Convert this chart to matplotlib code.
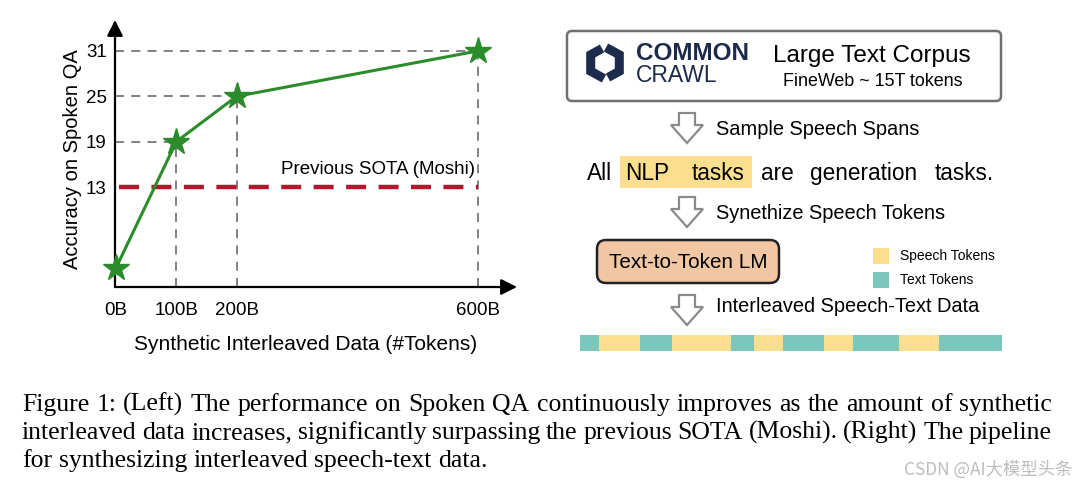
import matplotlib
matplotlib.use("Agg")
import matplotlib.pyplot as plt
import matplotlib.patches as mpatches
import numpy as np

plt.rcParams['font.family'] = ['Liberation Sans', 'DejaVu Sans']

# data for the left chart
x_tokens = [0, 100, 200, 600]
x_labels = ["0B", "100B", "200B", "600B"]
accuracy = [2.3, 19, 25, 31]
y_ticks = [13, 19, 25, 31]
sota = 13

# interleaved token strip (widths in px, kind of each span)
seg_widths = [19, 41, 32, 59, 23, 29, 41, 29, 46, 40, 63]
seg_kinds = ["text", "speech", "text", "speech", "text", "speech",
             "text", "speech", "text", "speech", "text"]

sentence_words = ["All", "NLP", "tasks", "are", "generation", "tasks."]
sentence_x = [600, 647, 718, 777, 864, 964]

caption = ["Figure 1: (Left) The performance on Spoken QA continuously improves as the amount of synthetic",
           "interleaved data increases, significantly surpassing the previous SOTA (Moshi). (Right) The pipeline",
           "for synthesizing interleaved speech-text data."]

YELLOW = "#fbdf8e"
TEAL = "#7ac7bd"
GREEN = "#2b8c2b"
RED = "#b3162e"
GREY = "#777777"

fig = plt.figure(figsize=(10.8, 4.9), dpi=100)

# overlay axes in pixel coordinates for the diagram parts
cv = fig.add_axes([0, 0, 1, 1])
cv.set_xlim(0, 1080)
cv.set_ylim(490, 0)
cv.axis("off")

# ---- left chart ----
ax = fig.add_axes([115 / 1080, 1 - 287 / 490, (517 - 115) / 1080, (287 - 20) / 490])
ax.set_xlim(-1.7, 665)
ax.set_ylim(-0.23, 35.1)
for s in ax.spines.values():
    s.set_visible(False)
ax.patch.set_alpha(0)

arrow_kw = dict(arrowstyle="-|>", lw=1.6, color="black", mutation_scale=24, shrinkA=0, shrinkB=0)
ax.annotate("", xy=(0, 1), xytext=(0, 0), xycoords="axes fraction", arrowprops=arrow_kw)
ax.annotate("", xy=(1, 0), xytext=(0, 0), xycoords="axes fraction", arrowprops=arrow_kw)

xmin = ax.get_xlim()[0]
ymin = ax.get_ylim()[0]
for xv, yv in zip(x_tokens, accuracy):
    if xv > 0:
        ax.plot([xmin, xv], [yv, yv], color=GREY, lw=1.3, dashes=(5, 4), zorder=1)
        ax.plot([xv, xv], [ymin, yv], color=GREY, lw=1.3, dashes=(5, 4), zorder=1)

ax.plot([x_tokens[0] + 5, x_tokens[-1]], [sota, sota], color=RED, lw=3.2,
        dashes=(4.5, 2.8), zorder=2)
ax.text(x_tokens[-1] - 4, sota + 2.3, "Previous SOTA (Moshi)", fontsize=13.5,
        ha="right", va="center")

ax.plot(x_tokens, accuracy, color=GREEN, lw=2.2, marker="*", markersize=20,
        markerfacecolor=GREEN, markeredgecolor=GREEN, zorder=3, clip_on=False)

ax.set_xticks(x_tokens, x_labels, fontsize=13.5)
ax.set_yticks(y_ticks, [str(v) for v in y_ticks], fontsize=13.5)
ax.tick_params(axis="x", length=0, pad=11)
ax.tick_params(axis="y", length=0, pad=6)

cv.text(72, 159, "Accuracy on Spoken QA", rotation=90, fontsize=14.5, ha="center", va="center")
cv.text(306, 344, "Synthetic Interleaved Data (#Tokens)", fontsize=15, ha="center", va="center")

# ---- right diagram ----
box = mpatches.FancyBboxPatch((567, 31), 434, 70, boxstyle="round,pad=0,rounding_size=5",
                              fc="white", ec="#707070", lw=1.8)
cv.add_patch(box)

# common crawl logo (hexagon ring with two notches)
navy = "#1c2a4c"
cx, cy, r = 605, 63, 16.5
ang = np.radians([90, 150, 210, 270, 330, 30, 90])
hx = cx + r * np.cos(ang)
hy = cy - r * np.sin(ang)
cv.plot([hx[0] - 3, hx[1], hx[2], hx[3] - 1], [hy[0] + 2, hy[1], hy[2], hy[3] - 1],
        color=navy, lw=6.5, solid_joinstyle="miter", solid_capstyle="butt")
cv.plot([hx[3] + 3, hx[4], hx[5], hx[6] + 1], [hy[3] - 2, hy[4], hy[5], hy[6] + 1],
        color=navy, lw=6.5, solid_joinstyle="miter", solid_capstyle="butt")
cv.text(636, 54, "COMMON", fontsize=17.5, fontweight="bold", color=navy, va="center", ha="left")
cv.text(636, 75, "CRAWL", fontsize=16.5, color=navy, va="center", ha="left")
cv.text(872, 56, "Large Text Corpus", fontsize=17.5, ha="center", va="center")
cv.text(873, 82, "FineWeb ~ 15T tokens", fontsize=12.9, ha="center", va="center")


def down_arrow(x, y0):
    pts = [(x - 8, y0), (x + 8, y0), (x + 8, y0 + 12), (x + 16, y0 + 12),
           (x, y0 + 30), (x - 16, y0 + 12), (x - 8, y0 + 12)]
    cv.add_patch(mpatches.Polygon(pts, closed=True, fc="white", ec="#8a8a8a", lw=1.6))


down_arrow(687, 113)
cv.text(716, 129, "Sample Speech Spans", fontsize=14.4, va="center")
down_arrow(687, 197)
cv.text(716, 213, "Synethize Speech Tokens", fontsize=14.4, va="center")
down_arrow(687, 295)
cv.text(716, 306, "Interleaved Speech-Text Data", fontsize=14.4, va="center")

cv.add_patch(mpatches.Rectangle((620, 156), 132, 32, fc=YELLOW, ec="none"))
for w, xw in zip(sentence_words, sentence_x):
    cv.text(xw, 180, w, fontsize=16.3, ha="center", va="baseline")

lm = mpatches.FancyBboxPatch((597, 240), 182, 43, boxstyle="round,pad=0,rounding_size=9",
                             fc="#f0c6a3", ec="#222222", lw=1.8)
cv.add_patch(lm)
cv.text(688, 262, "Text-to-Token LM", fontsize=14.9, ha="center", va="center")

cv.add_patch(mpatches.Rectangle((873, 248), 16, 16, fc=YELLOW, ec="none"))
cv.add_patch(mpatches.Rectangle((873, 272), 16, 16, fc=TEAL, ec="none"))
cv.text(900, 256, "Speech Tokens", fontsize=10, va="center")
cv.text(900, 280, "Text Tokens", fontsize=10, va="center")

lefts = 580 + np.concatenate([[0], np.cumsum(seg_widths)[:-1]])
colors = [YELLOW if k == "speech" else TEAL for k in seg_kinds]
cv.barh(343, seg_widths, left=lefts, height=16, color=colors, edgecolor="none")

# ---- caption, justified like the paper ----
renderer = fig.canvas.get_renderer()
line_y = [411, 439, 467]  # baselines
for i, (line, yl) in enumerate(zip(caption, line_y)):
    words = line.split(" ")
    objs = [cv.text(0, yl, w, fontsize=18.5, family="Liberation Serif", va="baseline") for w in words]
    widths = [o.get_window_extent(renderer).width for o in objs]
    if i < len(caption) - 1:
        gap = (1052 - 22 - sum(widths)) / (len(words) - 1)
    else:
        gap = objs[0].get_fontsize() * 100 / 72 * 0.25
    xpos = 22
    for o, wd in zip(objs, widths):
        o.set_x(xpos)
        xpos += wd + gap

cv.text(1072, 470, "CSDN @AI大模型头条", fontsize=12.5, color="#bdbdbd", ha="right", va="center",
        family=["Noto Sans CJK SC", "DejaVu Sans"])

fig.savefig("out.png", dpi=100)
